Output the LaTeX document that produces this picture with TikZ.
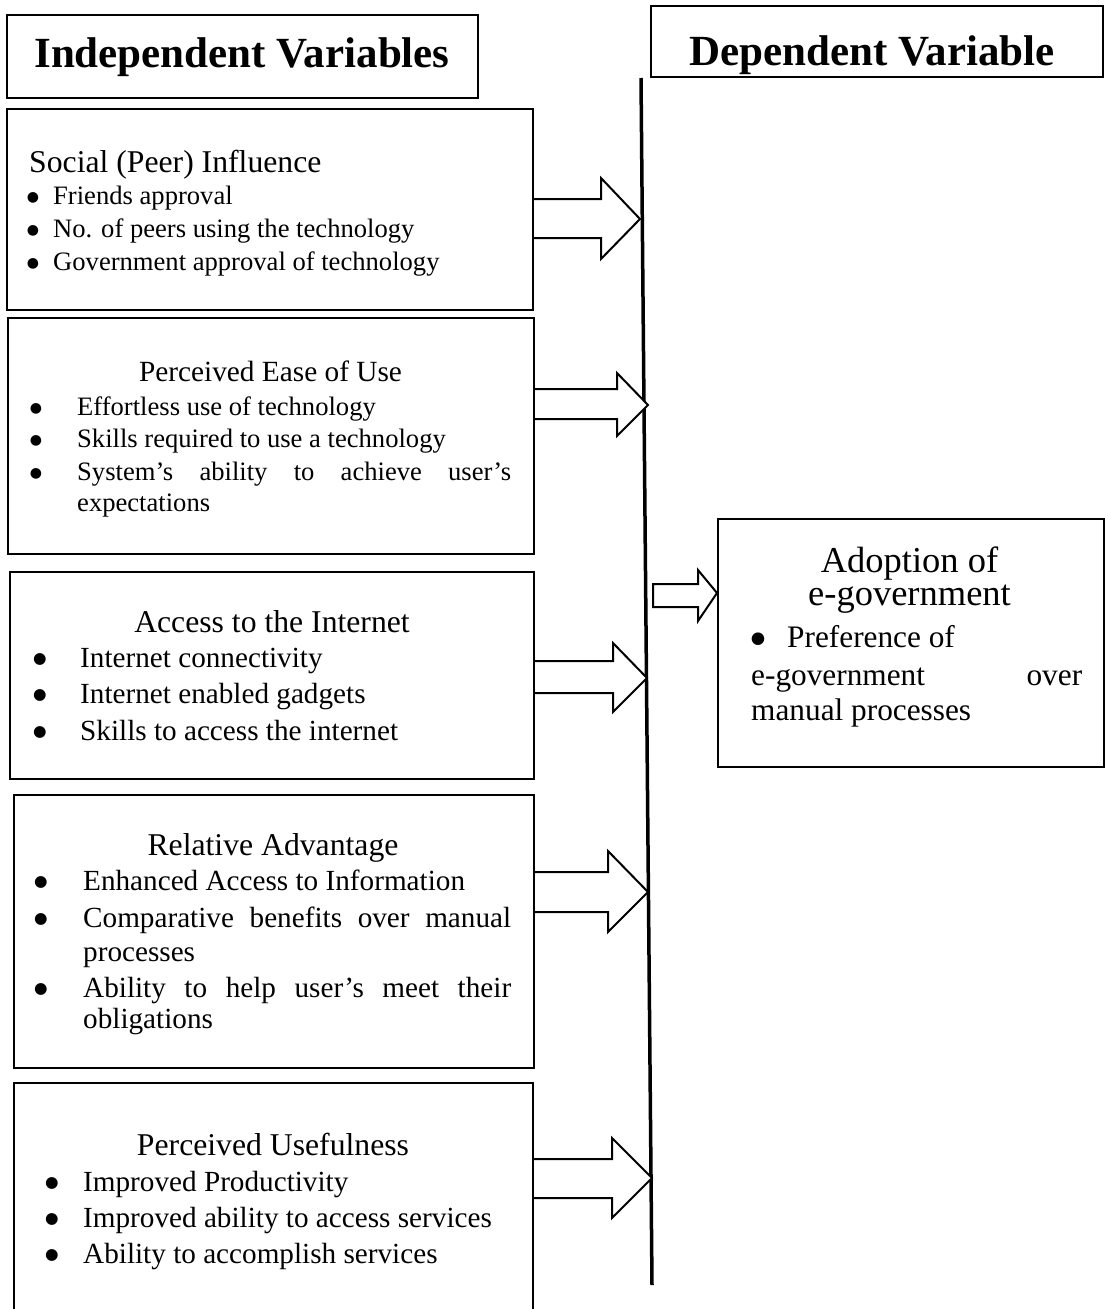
\documentclass[tikz,border=0pt]{standalone}
\usepackage{fontspec}
\setmainfont{Liberation Serif}
\newfontfamily\symf{DejaVu Sans}
\newcommand\fsz[1]{\fontsize{#1}{#1}\selectfont}
\newcommand\bigbul[1]{{\symf\fontsize{#1}{#1}\selectfont\raisebox{0.2em}{●}}}
\tikzset{
  x=1pt, y=-1pt,
  boxn/.style={draw, line width=2pt, inner sep=0pt},
  lt/.style={inner sep=0pt, anchor=base west},
  ct/.style={inner sep=0pt, anchor=base},
  arrowline/.style={draw, line width=2pt, line join=miter, fill=white},
  axisline/.style={line width=3.5pt}
}
% #1 box, #2 shaft top, #3 shaft bottom, #4 head base x, #5 head top, #6 head bottom, #7 tip x, #8 tip y
\newcommand\blockarrow[8]{%
  \draw[arrowline] (#1.east |- 0,#2) -- (#4,#2) -- (#4,#5) -- (#7,#8) -- (#4,#6) -- (#4,#3) -- (#1.east |- 0,#3);}
\begin{document}
\begin{tikzpicture}
\useasboundingbox[fill=white] (0,0) rectangle (1105,1309);

% titles
\node[boxn, minimum width=471pt, minimum height=83pt] (t1) at (242.5,56.5) {};
\node[ct] (t1txt) at (242,67) {\fsz{43}\bfseries Independent Variables};
\node[boxn, minimum width=452pt, minimum height=71pt] (t2) at (877,41.5) {};
\node[ct] (t2txt) at (872,65) {\fsz{43}\bfseries Dependent Variable};

% vertical axis
\coordinate (vtop) at (641,78);
\coordinate (vbot) at (652,1285);
\draw[axisline] (vtop) -- (vbot);

% box 1
\node[boxn, minimum width=526pt, minimum height=201pt] (b1) at (270,209.5) {};
\node[lt] (b1h) at (29,172) {\fsz{31.7}Social (Peer) Influence};
\foreach \yy/\tt [count=\i] in {204/Friends approval, 237/No. of peers using the technology, 270/Government approval of technology}{
  \node[ct] (b1d\i) at (33,\yy) {\bigbul{14}};
  \node[lt] (b1t\i) at (53,\yy) {\fsz{26.6}\tt};
}

% box 2
\node[boxn, minimum width=526pt, minimum height=236pt] (b2) at (271,436) {};
\node[ct] (b2h) at (270.5,381) {\fsz{29.3}Perceived Ease of Use};
\node[ct] (b2d1) at (36,415) {\bigbul{14}};
\node[lt] (b2t1) at (77,415) {\fsz{26.6}Effortless use of technology};
\node[ct] (b2d2) at (36,447) {\bigbul{14}};
\node[lt] (b2t2) at (77,447) {\fsz{26.6}Skills required to use a technology};
\node[ct] (b2d3) at (36,480) {\bigbul{14}};
\node[lt] (b2t3) at (77,480) {\fsz{26.6}\makebox[434pt][s]{System’s ability to achieve user’s}};
\node[lt] (b2t4) at (77,511) {\fsz{26.6}expectations};

% box 3
\node[boxn, minimum width=524pt, minimum height=207pt] (b3) at (272,675.5) {};
\node[ct] (b3h) at (272,632) {\fsz{31.7}Access to the Internet};
\foreach \yy/\tt [count=\i] in {667/Internet connectivity, 703/Internet enabled gadgets, 740/Skills to access the internet}{
  \node[ct] (b3d\i) at (40,\yy) {\bigbul{15.5}};
  \node[lt] (b3t\i) at (80,\yy) {\fsz{29.2}\tt};
}

% box 4
\node[boxn, minimum width=520pt, minimum height=273pt] (b4) at (274,931.5) {};
\node[ct] (b4h) at (273,855) {\fsz{31.7}Relative Advantage};
\node[ct] (b4d1) at (41,890) {\bigbul{15.5}};
\node[lt] (b4t1) at (83,890) {\fsz{29.2}Enhanced Access to Information};
\node[ct] (b4d2) at (41,927) {\bigbul{15.5}};
\node[lt] (b4t2) at (83,927) {\fsz{29.2}\makebox[428pt][s]{Comparative benefits over manual}};
\node[lt] (b4t3) at (83,961) {\fsz{29.2}processes};
\node[ct] (b4d3) at (41,997) {\bigbul{15.5}};
\node[lt] (b4t4) at (83,997) {\fsz{29.2}\makebox[428pt][s]{Ability to help user’s meet their}};
\node[lt] (b4t5) at (83,1028) {\fsz{29.2}obligations};

% box 5
\node[boxn, minimum width=519pt, minimum height=237pt] (b5) at (273.5,1201.5) {};
\node[ct] (b5h) at (273,1155) {\fsz{31.7}Perceived Usefulness};
\foreach \yy/\tt [count=\i] in {1191/Improved Productivity, 1227/Improved ability to access services, 1263/Ability to accomplish services}{
  \node[ct] (b5d\i) at (52,\yy) {\bigbul{15.5}};
  \node[lt] (b5t\i) at (83,\yy) {\fsz{29.2}\tt};
}

% dependent box
\node[boxn, minimum width=386pt, minimum height=248pt] (ad) at (911,643) {};
\node[inner sep=0pt, anchor=base, align=center, font=\fontsize{36.5}{33}\selectfont] (adh) at (909.5,605) {Adoption of\\e-government};
\node[ct] (add1) at (758,647) {\bigbul{16.5}};
\node[lt] (adt1) at (787,647) {\fsz{31.3}Preference of};
\node[lt] (adt2) at (751,685) {\fsz{31.3}\makebox[331pt][s]{e-government over}};
\node[lt] (adt3) at (751,720) {\fsz{31.3}manual processes};

% block arrows
\blockarrow{b1}{199}{238}{601}{178}{259}{640}{219}
\blockarrow{b2}{389}{419}{617}{373}{436}{648}{405}
\blockarrow{b3}{661}{693}{613}{643}{712}{647}{678}
\blockarrow{b4}{872}{912}{608}{851}{932}{648}{892}
\blockarrow{b5}{1159}{1198}{612}{1138}{1218}{652}{1178}
\draw[arrowline] (653,584) -- (698,584) -- (698,570) -- (ad.west |- 0,593) -- (698,621) -- (698,607) -- (653,607) -- cycle;
\end{tikzpicture}
\end{document}
